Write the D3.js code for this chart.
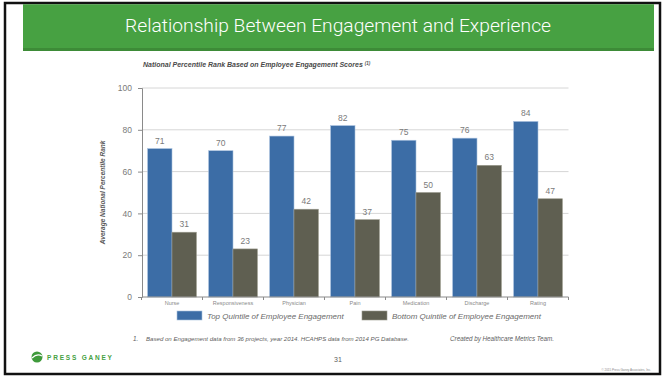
<!doctype html>
<meta charset="utf-8">
<style>
  body { margin: 0; background: #fff; }
  svg { display: block; font-family: "Liberation Sans", Arial, sans-serif; }
</style>
<body>
<script src="https://d3js.org/d3.v7.min.js"></script>
<script>
var categories = ['Nurse', 'Responsiveness', 'Physician', 'Pain', 'Medication', 'Discharge', 'Rating'];
var topQuintile = [71, 70, 77, 82, 75, 76, 84];
var bottomQuintile = [31, 23, 42, 37, 50, 63, 47];
var seriesNames = ['Top Quintile of Employee Engagement', 'Bottom Quintile of Employee Engagement'];
var yTicks = [0, 20, 40, 60, 80, 100];

var W = 665, H = 378,
  blue = '#3c6da6',
  grey = '#5f5f51',
  textGrey = '#7a7a7a';

var svg = d3.select('body').append('svg').attr('width', W).attr('height', H);

// frame
svg.append('rect').attr('x', 5).attr('y', 3).attr('width', 655).attr('height', 371)
  .attr('fill', '#fff').attr('stroke', '#111').attr('stroke-width', 2.5);

// banner
svg.append('rect').attr('x', 23).attr('y', 4.5).attr('width', 631).attr('height', 46.5).attr('fill', '#3d8b37');
svg.append('rect').attr('x', 23).attr('y', 4.5).attr('width', 631).attr('height', 43.5).attr('fill', '#47a142');
svg.append('text').text('Relationship Between Engagement and Experience')
  .attr('x', 338).attr('y', 32).attr('text-anchor', 'middle')
  .attr('fill', '#fff').style('font-size', '18px').style('font-weight', 300)
  .style('font-family', 'Roboto, sans-serif')
  .attr('textLength', 426).attr('lengthAdjust', 'spacingAndGlyphs');

// subtitle
var sub = svg.append('text').attr('x', 143).attr('y', 67)
  .attr('fill', '#4a4a4a').style('font-size', '7px').style('font-weight', 'bold').style('font-style', 'italic');
sub.append('tspan').text('National Percentile Rank Based on Employee Engagement Scores ');
sub.append('tspan').text('(1)').style('font-size', '4.5px').attr('dy', -2.5);

var x = d3.scaleBand().domain(categories).range([141.5, 568.5]).paddingInner(0.2).paddingOuter(0.1);
var x1 = d3.scaleBand().domain([0, 1]).range([0, x.bandwidth()]);
var y = d3.scaleLinear().domain([0, 100]).range([297, 88]);

// grid
svg.append('g').selectAll('line').data(yTicks.slice(1)).enter().append('line')
  .attr('x1', 142).attr('x2', 568.5)
  .attr('y1', function(d){return y(d);}).attr('y2', function(d){return y(d);})
  .attr('stroke', '#d6d6d6').attr('stroke-width', 1);

// y axis
var yAxis = svg.append('g').attr('transform', 'translate(142,0)')
  .call(d3.axisLeft(y).tickValues(yTicks).tickSize(4).tickPadding(6));
yAxis.select('.domain').attr('stroke', '#8a8a8a');
yAxis.selectAll('.tick line').attr('stroke', '#8a8a8a');
yAxis.selectAll('text').attr('fill', textGrey).style('font-size', '8.5px').style('font-family', '"Liberation Sans", Arial, sans-serif');

svg.append('text').text('Average National Percentile Rank')
  .attr('transform', 'translate(105,' + y(50) + ') rotate(-90)')
  .attr('text-anchor', 'middle').attr('fill', '#5a5a5a')
  .style('font-size', '6.5px').style('font-weight', 'bold').style('font-style', 'italic');

// bars
var rows = categories.map(function(c, i){ return {cat: c, vals: [topQuintile[i], bottomQuintile[i]]}; });
var groups = svg.append('g').selectAll('g').data(rows).enter().append('g')
  .attr('transform', function(d){ return 'translate(' + x(d.cat) + ',0)'; });

groups.selectAll('rect').data(function(d){ return d.vals; }).enter().append('rect')
  .attr('x', function(d, i){ return x1(i); })
  .attr('y', function(d){ return y(d); })
  .attr('width', x1.bandwidth())
  .attr('height', function(d){ return y(0) - y(d); })
  .attr('fill', function(d, i){ return i === 0 ? blue : grey; })
  .attr('stroke', function(d, i){ return i === 0 ? '#a9c1de' : '#9a9a8e'; })
  .attr('stroke-width', 0.6);

groups.selectAll('text').data(function(d){ return d.vals; }).enter().append('text')
  .text(function(d){ return d; })
  .attr('x', function(d, i){ return x1(i) + x1.bandwidth() / 2; })
  .attr('y', function(d){ return y(d) - 5; })
  .attr('text-anchor', 'middle').attr('fill', textGrey).style('font-size', '8.5px');

// x axis
var xAxis = svg.append('g').attr('transform', 'translate(0,297)');
xAxis.append('line').attr('x1', 142).attr('x2', 568.5).attr('stroke', '#8a8a8a');
xAxis.selectAll('.sep').data(d3.range(categories.length + 1)).enter().append('line')
  .attr('x1', function(i){ return 141.5 + i * x.step(); })
  .attr('x2', function(i){ return 141.5 + i * x.step(); })
  .attr('y1', 0).attr('y2', 3).attr('stroke', '#8a8a8a');
xAxis.selectAll('text').data(categories).enter().append('text')
  .text(function(d){ return d; })
  .attr('x', function(d){ return x(d) + x.bandwidth() / 2; })
  .attr('y', 8).attr('text-anchor', 'middle').attr('fill', '#8a8a8a').style('font-size', '5.5px');

// legend
var legend = svg.append('g').selectAll('g').data(seriesNames).enter().append('g')
  .attr('transform', function(d, i){ return 'translate(' + (i === 0 ? 177 : 362) + ',311)'; });
legend.append('rect').attr('width', 25).attr('height', 9)
  .attr('fill', function(d, i){ return i === 0 ? blue : grey; })
  .attr('stroke', function(d, i){ return i === 0 ? '#a9c1de' : '#9a9a8e'; }).attr('stroke-width', 0.6);
legend.append('text').text(function(d){ return d; })
  .attr('x', 30).attr('y', 7.5).attr('fill', '#6a6a6a')
  .style('font-size', '8px').style('font-style', 'italic');

// footnotes
svg.append('text').text('1.').attr('x', 133).attr('y', 341)
  .attr('fill', '#606060').style('font-size', '6.3px').style('font-style', 'italic');
svg.append('text').text('Based on Engagement data from 36 projects, year 2014. HCAHPS data from 2014 PG Database.')
  .attr('x', 146).attr('y', 341).attr('fill', '#606060').style('font-size', '6.1px').style('font-style', 'italic');
svg.append('text').text('Created by Healthcare Metrics Team.')
  .attr('x', 450).attr('y', 341).attr('fill', '#606060').style('font-size', '6.3px').style('font-style', 'italic');
svg.append('text').text('31').attr('x', 338).attr('y', 362).attr('text-anchor', 'middle')
  .attr('fill', '#606060').style('font-size', '7px');
svg.append('text').text('\u00a9 2015 Press Ganey Associates, Inc.')
  .attr('x', 651).attr('y', 371).attr('text-anchor', 'end').attr('fill', '#888')
  .style('font-size', '3px');

// logo
var logo = svg.append('g').attr('transform', 'translate(30,352)');
logo.append('circle').attr('cx', 7).attr('cy', 5).attr('r', 5.5).attr('fill', '#3f9a3b');
logo.append('path').attr('d', 'M2,6 Q7,1 12,4').attr('stroke', '#fff').attr('stroke-width', 1.2).attr('fill', 'none');
logo.append('text').text('PRESS GANEY').attr('x', 17).attr('y', 8)
  .attr('fill', '#46a142').style('font-size', '6.5px').style('font-weight', 'bold')
  .style('letter-spacing', '1.8px');
</script>
</body>
